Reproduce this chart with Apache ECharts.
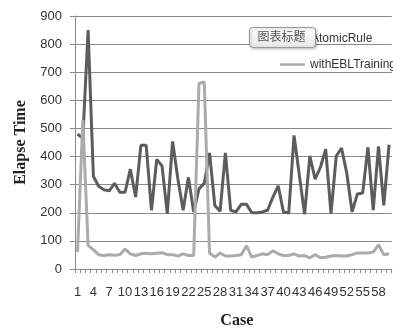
<!DOCTYPE html>
<html>
<head>
<meta charset="utf-8">
<script src="https://cdn.jsdelivr.net/npm/echarts@6/dist/echarts.min.js"></script>
<style>
html,body{margin:0;padding:0;background:#fff;}
#chart{width:393px;height:334px;}
</style>
</head>
<body>
<div id="chart"></div>
<script>
var categories = ['1','2','3','4','5','6','7','8','9','10','11','12','13','14','15','16','17','18','19','20',
  '21','22','23','24','25','26','27','28','29','30','31','32','33','34','35','36','37','38','39','40',
  '41','42','43','44','45','46','47','48','49','50','51','52','53','54','55','56','57','58','59','60'];
var atomicRule = [480,465,850,330,294,282,278,305,273,273,355,256,440,440,209,390,367,197,454,320,
  209,326,203,285,305,413,226,205,413,209,203,230,230,200,200,203,209,256,296,203,
  199,475,335,195,402,320,362,426,197,402,430,340,203,267,270,433,209,436,226,442];
var withEBLTraining = [60,530,83,69,51,48,51,49,51,71,54,48,54,56,54,56,58,51,51,46,
  54,48,48,660,665,57,42,57,46,46,48,51,83,42,48,54,51,65,54,48,
  48,54,46,48,40,51,40,42,46,48,46,46,51,57,57,57,60,86,51,54];
var yTicks = [0,100,200,300,400,500,600,700,800,900];
var seriesNames = ['AtomicRule','withEBLTraining'];
var titleText = '图表标题';

var chart = echarts.init(document.getElementById('chart'), null, {renderer:'canvas'});
var darkColor = '#5c5c5c', lightColor = '#ababab', gridColor = '#8a8a8a';
chart.setOption({
  animation:false,
  backgroundColor:'#ffffff',
  grid:{left:74.9, right:1.3, top:16, bottom:61, containLabel:false},
  legend:[
    {data:[seriesNames[0]], left:276, top:28, orient:'horizontal', icon:'rect', itemWidth:25, itemHeight:2.5,
     itemGap:5, z:2, textStyle:{fontFamily:'Liberation Sans', fontSize:12, color:'#333'}},
    {data:[seriesNames[1]], left:275, top:53.5, orient:'horizontal', icon:'rect', itemWidth:25, itemHeight:2.5,
     itemGap:5, z:2, textStyle:{fontFamily:'Liberation Sans', fontSize:12, color:'#333'}}
  ],
  graphic:{elements:[
    {type:'rect', left:249, top:27, z:100, zlevel:1, shape:{width:66,height:20,r:3},
     style:{fill:new echarts.graphic.LinearGradient(0,0,0,1,[{offset:0,color:'#ffffff'},{offset:1,color:'#e4e7eb'}]),
            stroke:'#9a9a9a', lineWidth:1, shadowBlur:3, shadowColor:'rgba(0,0,0,0.25)', shadowOffsetX:1, shadowOffsetY:1}},
    {type:'text', left:257.5, top:30, z:101, zlevel:1, style:{text:titleText, fill:'#555', font:'12px "Noto Sans CJK SC"'}}
  ]},
  xAxis:{
    type:'category', data:categories, boundaryGap:true,
    name:'Case', nameLocation:'middle', nameGap:44,
    nameTextStyle:{fontFamily:'Liberation Serif', fontWeight:'bold', fontSize:16, color:'#222', padding:[0,0,0,7]},
    axisLine:{lineStyle:{color:gridColor, width:1}},
    axisTick:{show:true, interval:0, length:4, lineStyle:{color:gridColor}},
    axisLabel:{interval:function(i){return i%3===0;}, margin:17, fontFamily:'Liberation Sans', fontSize:13, color:'#333'}
  },
  yAxis:{
    type:'value', min:yTicks[0], max:yTicks[yTicks.length-1], interval:100,
    name:'Elapse Time', nameLocation:'middle', nameGap:40.5, nameRotate:90,
    nameTextStyle:{fontFamily:'Liberation Serif', fontWeight:'bold', fontSize:16, color:'#222'},
    axisLine:{show:true, lineStyle:{color:gridColor, width:1}},
    axisTick:{show:true, length:5, lineStyle:{color:gridColor}},
    axisLabel:{margin:13, fontFamily:'Liberation Sans', fontSize:13, color:'#333'},
    splitLine:{show:true, lineStyle:{color:gridColor, width:1}}
  },
  series:[
    {name:seriesNames[0], type:'line', data:atomicRule, symbol:'none', smooth:false,
     lineStyle:{color:darkColor, width:3}, itemStyle:{color:darkColor}},
    {name:seriesNames[1], type:'line', data:withEBLTraining, symbol:'none', smooth:false,
     lineStyle:{color:lightColor, width:3}, itemStyle:{color:lightColor}}
  ]
});
</script>
</body>
</html>
